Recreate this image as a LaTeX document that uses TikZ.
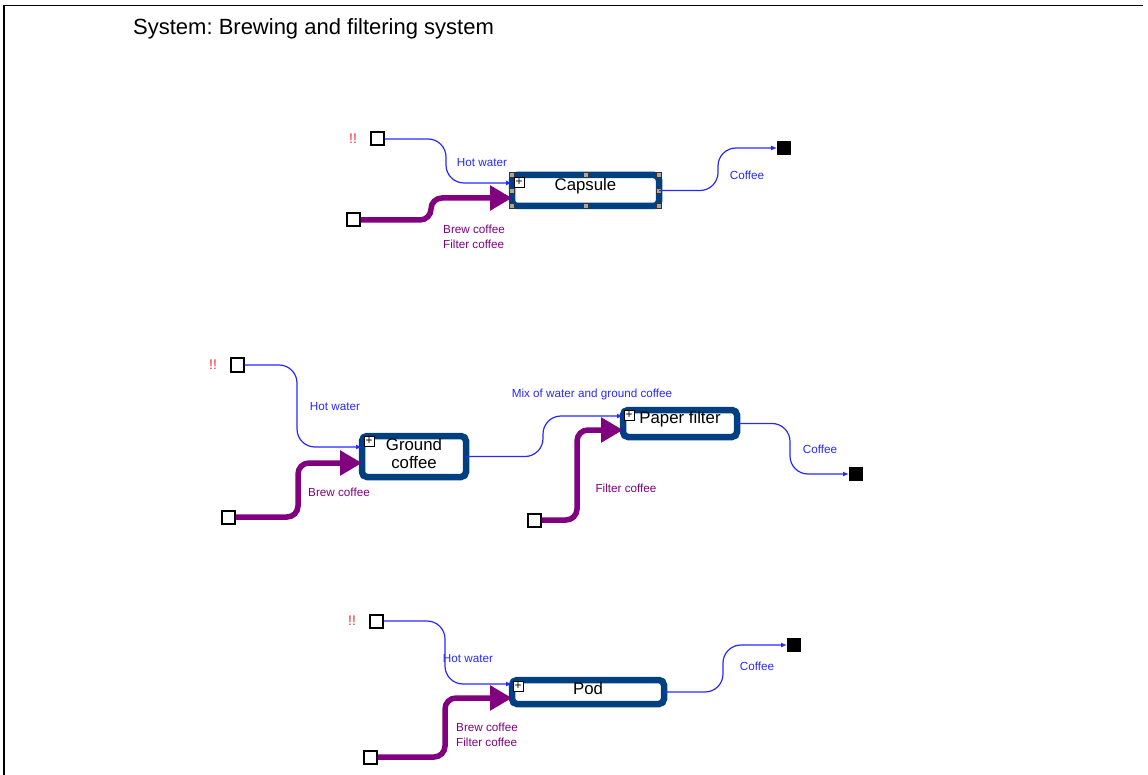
\documentclass[tikz,border=0pt]{standalone}
\usepackage{fontspec}
\setmainfont{Liberation Sans}
\usetikzlibrary{arrows.meta,calc}
\definecolor{boxblue}{RGB}{0,64,128}
\definecolor{flowblue}{RGB}{40,40,255}
\definecolor{ctrlpurple}{RGB}{128,0,128}
\definecolor{warnred}{RGB}{235,50,50}
\frenchspacing

\begin{document}
\begin{tikzpicture}[x=1pt,y=-1pt,
  fn/.style={draw=boxblue, line width=6.5pt, rounded corners=5pt, fill=white,
    inner sep=0pt, outer sep=0pt},
  fnlbl/.style={font=\fontsize{16.8}{18}\selectfont, align=center, inner sep=0pt, yshift=4pt},
  src/.style={draw=black, line width=2pt, fill=white, minimum size=13pt, inner sep=0pt},
  sink/.style={fill=black, minimum size=14pt, inner sep=0pt, outer sep=0pt},
  flow/.style={draw=flowblue, line width=1.2pt, rounded corners=18pt,
    -{Latex[length=6pt,width=5pt]}},
  ctrl/.style={draw=ctrlpurple, line width=5.5pt, rounded corners=11pt,
    -{Triangle[length=22pt,width=24pt]}},
  flowlbl/.style={text=flowblue, font=\fontsize{11.7}{15}\selectfont, inner sep=0pt},
  ctrllbl/.style={text=ctrlpurple, font=\fontsize{11.7}{15}\selectfont, inner sep=0pt, align=left},
  warn/.style={text=warnred, font=\fontsize{14}{14}\selectfont, inner sep=0pt},
  plus/.style={draw=black, line width=0.7pt, fill=white, minimum size=10pt, inner sep=0pt,
    font=\fontsize{12}{12}\selectfont},
  handle/.style={draw=black!80, line width=0.6pt, fill=black!35, minimum size=5pt, inner sep=0pt}
]
\useasboundingbox (0,0) rectangle (1148,775);

% page frame (top and left edges)
\draw[line width=1.6pt] (4,5.5) -- (1143,5.5);
\draw[line width=2pt] (4,5) -- (4,775);

% title
\node[anchor=base west, inner sep=0pt, font=\fontsize{22}{24}\selectfont] (title) at (133,35)
  {System: Brewing and filtering system};

% ---------------- Capsule ----------------
\node[fn, minimum width=147pt, minimum height=31pt,
  label={[fnlbl]center:Capsule}] (cap) at (585.5,190.5) {};
\foreach \a in {north west,north,north east,west,east,south west,south,south east}
  \node[handle] at (cap.\a) {};
\node[plus] (capplus) at ($(cap.north west)+(7,7)$) {+};
\coordinate (capHW) at ($(cap.west)+(0,-7.5)$);
\coordinate (capBC) at ($(cap.west)+(0,7.5)$);

\node[warn] (w1) at (353,139) {!!};
\node[src] (hw1) at (377,139) {};
\node[src] (bs1) at (353,220) {};
\node[sink] (ck1) at (784,148) {};

\draw[flow] (hw1.east) -| ([xshift=-66pt]capHW) -- (capHW);
\draw[ctrl] (bs1.east) -| ([xshift=-81pt]capBC) -- (capBC);
\draw[flow] (cap.east) -| ([xshift=-59pt]ck1.west) -- (ck1.west);

\node[flowlbl] (l1) at (482,163) {Hot water};
\node[ctrllbl, anchor=west] (l2) at (443,236.5) {Brew coffee\\Filter coffee};
\node[flowlbl] (l3) at (747,175) {Coffee};

% ---------------- Ground coffee / Paper filter ----------------
\node[fn, minimum width=104pt, minimum height=41pt,
  label={[fnlbl, yshift=-0.5pt]center:Ground\\coffee}] (gc) at (414,456.5) {};
\node[plus] (gcplus) at ($(gc.north west)+(7,5)$) {+};
\coordinate (gcHW) at ($(gc.west)+(0,-9.5)$);
\coordinate (gcBC) at ($(gc.west)+(0,6.5)$);

\node[fn, minimum width=114pt, minimum height=27pt,
  label={[fnlbl]center:Paper filter}] (pf) at (680,423.5) {};
\node[plus] (pfplus) at ($(pf.north west)+(6,5)$) {+};
\coordinate (pfMix) at ($(pf.west)+(0,-7.5)$);
\coordinate (pfFC) at ($(pf.west)+(0,6.5)$);

\node[warn] (w2) at (213,365) {!!};
\node[src] (hw2) at (237,365) {};
\node[src] (bs2) at (228,517) {};
\node[src] (bs3) at (534,520) {};
\node[sink] (ck2) at (856,474) {};

\draw[flow] (hw2.east) -| ([xshift=-65pt]gcHW) -- (gcHW);
\draw[ctrl] (bs2.east) -| ([xshift=-64pt]gcBC) -- (gcBC);
\draw[flow] (gc.east) -| ([xshift=-80pt]pfMix) -- (pfMix);
\draw[ctrl] (bs3.east) -| ([xshift=-46pt]pfFC) -- (pfFC);
\draw[flow] (pf.east) -| ([xshift=-59pt]ck2.west) -- (ck2.west);

\node[flowlbl] (l4) at (335,407) {Hot water};
\node[ctrllbl] (l5) at (339,492) {Brew coffee};
\node[flowlbl] (l6) at (592,394) {Mix of water and ground coffee};
\node[ctrllbl] (l7) at (626,488) {Filter coffee};
\node[flowlbl] (l8) at (820,449) {Coffee};

% ---------------- Pod ----------------
\node[fn, minimum width=152pt, minimum height=24pt,
  label={[fnlbl]center:Pod}] (pod) at (588,692) {};
\node[plus] (podplus) at ($(pod.north west)+(6,6)$) {+};
\coordinate (podHW) at ($(pod.west)+(0,-8)$);
\coordinate (podBC) at ($(pod.west)+(0,6)$);

\node[warn] (w3) at (352,621) {!!};
\node[src] (hw3) at (376,621) {};
\node[src] (bs4) at (370,757) {};
\node[sink] (ck3) at (794,645) {};

\draw[flow] (hw3.east) -| ([xshift=-67pt]podHW) -- (podHW);
\draw[ctrl] (bs4.east) -| ([xshift=-67pt]podBC) -- (podBC);
\draw[flow] (pod.east) -| ([xshift=-64pt]ck3.west) -- (ck3.west);

\node[flowlbl] (l9) at (468,659) {Hot water};
\node[ctrllbl, anchor=west] (l10) at (456,734.5) {Brew coffee\\Filter coffee};
\node[flowlbl] (l11) at (757,666) {Coffee};
\end{tikzpicture}
\end{document}
